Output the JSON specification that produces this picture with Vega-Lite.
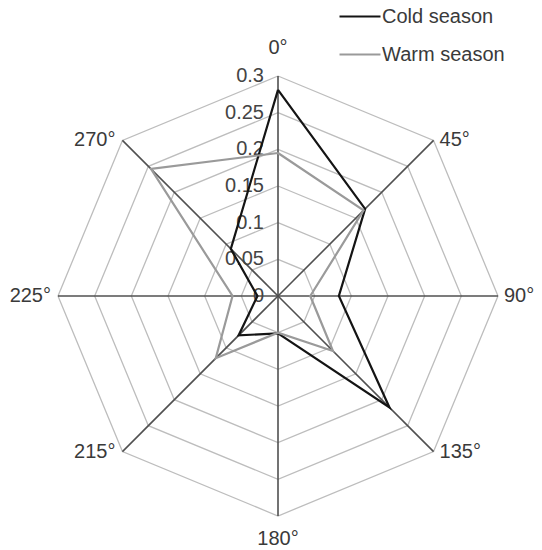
{
  "$schema": "https://vega.github.io/schema/vega-lite/v6.json",
  "width": 440,
  "height": 440,
  "autosize": {"type": "none"},
  "padding": {"left": 58, "top": 76, "right": 44, "bottom": 34},
  "background": "white",
  "config": {
    "view": {"stroke": null},
    "text": {"font": "Liberation Sans", "fontSize": 20, "color": "#3a3a3a"},
    "legend": {
      "orient": "none",
      "legendX": 280,
      "legendY": -81.5,
      "symbolType": "stroke",
      "symbolSize": 1681,
      "symbolStrokeWidth": 2.2,
      "labelFont": "Liberation Sans",
      "labelFontSize": 20,
      "labelColor": "#3a3a3a",
      "labelOffset": 0,
      "rowPadding": 6,
      "padding": 0,
      "title": null
    }
  },
  "datasets": {
    "series": [
      {"season": "Cold season", "dir": "0°", "i": 0, "v": 0.281},
      {"season": "Cold season", "dir": "45°", "i": 1, "v": 0.168},
      {"season": "Cold season", "dir": "90°", "i": 2, "v": 0.083},
      {"season": "Cold season", "dir": "135°", "i": 3, "v": 0.215},
      {"season": "Cold season", "dir": "180°", "i": 4, "v": 0.051},
      {"season": "Cold season", "dir": "215°", "i": 5, "v": 0.076},
      {"season": "Cold season", "dir": "225°", "i": 6, "v": 0.028},
      {"season": "Cold season", "dir": "270°", "i": 7, "v": 0.091},
      {"season": "Cold season", "dir": "0°", "i": 8, "v": 0.281},
      {"season": "Warm season", "dir": "0°", "i": 0, "v": 0.195},
      {"season": "Warm season", "dir": "45°", "i": 1, "v": 0.165},
      {"season": "Warm season", "dir": "90°", "i": 2, "v": 0.044},
      {"season": "Warm season", "dir": "135°", "i": 3, "v": 0.106},
      {"season": "Warm season", "dir": "180°", "i": 4, "v": 0.05},
      {"season": "Warm season", "dir": "215°", "i": 5, "v": 0.12},
      {"season": "Warm season", "dir": "225°", "i": 6, "v": 0.062},
      {"season": "Warm season", "dir": "270°", "i": 7, "v": 0.245},
      {"season": "Warm season", "dir": "0°", "i": 8, "v": 0.195}
    ],
    "rings": [
      {"r": 0.05, "i": [0, 1, 2, 3, 4, 5, 6, 7, 8]},
      {"r": 0.1, "i": [0, 1, 2, 3, 4, 5, 6, 7, 8]},
      {"r": 0.15, "i": [0, 1, 2, 3, 4, 5, 6, 7, 8]},
      {"r": 0.2, "i": [0, 1, 2, 3, 4, 5, 6, 7, 8]},
      {"r": 0.25, "i": [0, 1, 2, 3, 4, 5, 6, 7, 8]},
      {"r": 0.3, "i": [0, 1, 2, 3, 4, 5, 6, 7, 8]}
    ],
    "spokes": [
      {"i": 0, "dir": "0°"},
      {"i": 1, "dir": "45°"},
      {"i": 2, "dir": "90°"},
      {"i": 3, "dir": "135°"},
      {"i": 4, "dir": "180°"},
      {"i": 5, "dir": "215°"},
      {"i": 6, "dir": "225°"},
      {"i": 7, "dir": "270°"}
    ],
    "ticks": [
      {"t": 0, "label": "0"},
      {"t": 0.05, "label": "0.05"},
      {"t": 0.1, "label": "0.1"},
      {"t": 0.15, "label": "0.15"},
      {"t": 0.2, "label": "0.2"},
      {"t": 0.25, "label": "0.25"},
      {"t": 0.3, "label": "0.3"}
    ]
  },
  "layer": [
    {
      "data": {"name": "rings"},
      "transform": [
        {"flatten": ["i"]},
        {"calculate": "datum.r * sin(datum.i * PI / 4)", "as": "x"},
        {"calculate": "datum.r * cos(datum.i * PI / 4)", "as": "y"}
      ],
      "mark": {"type": "line", "stroke": "#bdbdbd", "strokeWidth": 1.3},
      "encoding": {
        "x": {"field": "x", "type": "quantitative", "scale": {"domain": [-0.3, 0.3], "nice": false, "zero": false}, "axis": null},
        "y": {"field": "y", "type": "quantitative", "scale": {"domain": [-0.3, 0.3], "nice": false, "zero": false}, "axis": null},
        "detail": {"field": "r", "type": "nominal"},
        "order": {"field": "i", "type": "quantitative"}
      }
    },
    {
      "data": {"name": "spokes"},
      "transform": [
        {"calculate": "0.3 * sin(datum.i * PI / 4)", "as": "x"},
        {"calculate": "0.3 * cos(datum.i * PI / 4)", "as": "y"},
        {"calculate": "0", "as": "z"}
      ],
      "mark": {"type": "rule", "stroke": "#505050", "strokeWidth": 1.6},
      "encoding": {
        "x": {"field": "z", "type": "quantitative"},
        "y": {"field": "z", "type": "quantitative"},
        "x2": {"field": "x"},
        "y2": {"field": "y"}
      }
    },
    {
      "data": {"name": "ticks"},
      "transform": [{"calculate": "0", "as": "z"}],
      "mark": {"type": "text", "align": "right", "baseline": "middle", "dx": -14, "color": "#444444"},
      "encoding": {
        "x": {"field": "z", "type": "quantitative"},
        "y": {"field": "t", "type": "quantitative"},
        "text": {"field": "label"}
      }
    },
    {
      "data": {"name": "series"},
      "transform": [
        {"calculate": "datum.v * sin(datum.i * PI / 4)", "as": "x"},
        {"calculate": "datum.v * cos(datum.i * PI / 4)", "as": "y"}
      ],
      "mark": {"type": "line", "strokeWidth": 2.2},
      "encoding": {
        "x": {"field": "x", "type": "quantitative"},
        "y": {"field": "y", "type": "quantitative"},
        "color": {
          "field": "season",
          "type": "nominal",
          "scale": {"domain": ["Cold season", "Warm season"], "range": ["#141414", "#9a9a9a"]},
          "sort": ["Cold season", "Warm season"]
        },
        "order": {"field": "i", "type": "quantitative"}
      }
    },
    {
      "data": {"name": "spokes"},
      "transform": [
        {"filter": "datum.i == 0"},
        {"calculate": "0.3 * sin(datum.i * PI / 4)", "as": "x"},
        {"calculate": "0.3 * cos(datum.i * PI / 4)", "as": "y"}
      ],
      "mark": {"type": "text", "align": "center", "baseline": "middle", "dy": -28},
      "encoding": {
        "x": {"field": "x", "type": "quantitative"},
        "y": {"field": "y", "type": "quantitative"},
        "text": {"field": "dir"}
      }
    },
    {
      "data": {"name": "spokes"},
      "transform": [
        {"filter": "datum.i == 4"},
        {"calculate": "0.3 * sin(datum.i * PI / 4)", "as": "x"},
        {"calculate": "0.3 * cos(datum.i * PI / 4)", "as": "y"}
      ],
      "mark": {"type": "text", "align": "center", "baseline": "middle", "dy": 23},
      "encoding": {
        "x": {"field": "x", "type": "quantitative"},
        "y": {"field": "y", "type": "quantitative"},
        "text": {"field": "dir"}
      }
    },
    {
      "data": {"name": "spokes"},
      "transform": [
        {"filter": "datum.i >= 1 && datum.i <= 3"},
        {"calculate": "0.3 * sin(datum.i * PI / 4)", "as": "x"},
        {"calculate": "0.3 * cos(datum.i * PI / 4)", "as": "y"}
      ],
      "mark": {"type": "text", "align": "left", "baseline": "middle", "dx": 6},
      "encoding": {
        "x": {"field": "x", "type": "quantitative"},
        "y": {"field": "y", "type": "quantitative"},
        "text": {"field": "dir"}
      }
    },
    {
      "data": {"name": "spokes"},
      "transform": [
        {"filter": "datum.i >= 5"},
        {"calculate": "0.3 * sin(datum.i * PI / 4)", "as": "x"},
        {"calculate": "0.3 * cos(datum.i * PI / 4)", "as": "y"}
      ],
      "mark": {"type": "text", "align": "right", "baseline": "middle", "dx": -7},
      "encoding": {
        "x": {"field": "x", "type": "quantitative"},
        "y": {"field": "y", "type": "quantitative"},
        "text": {"field": "dir"}
      }
    }
  ]
}
